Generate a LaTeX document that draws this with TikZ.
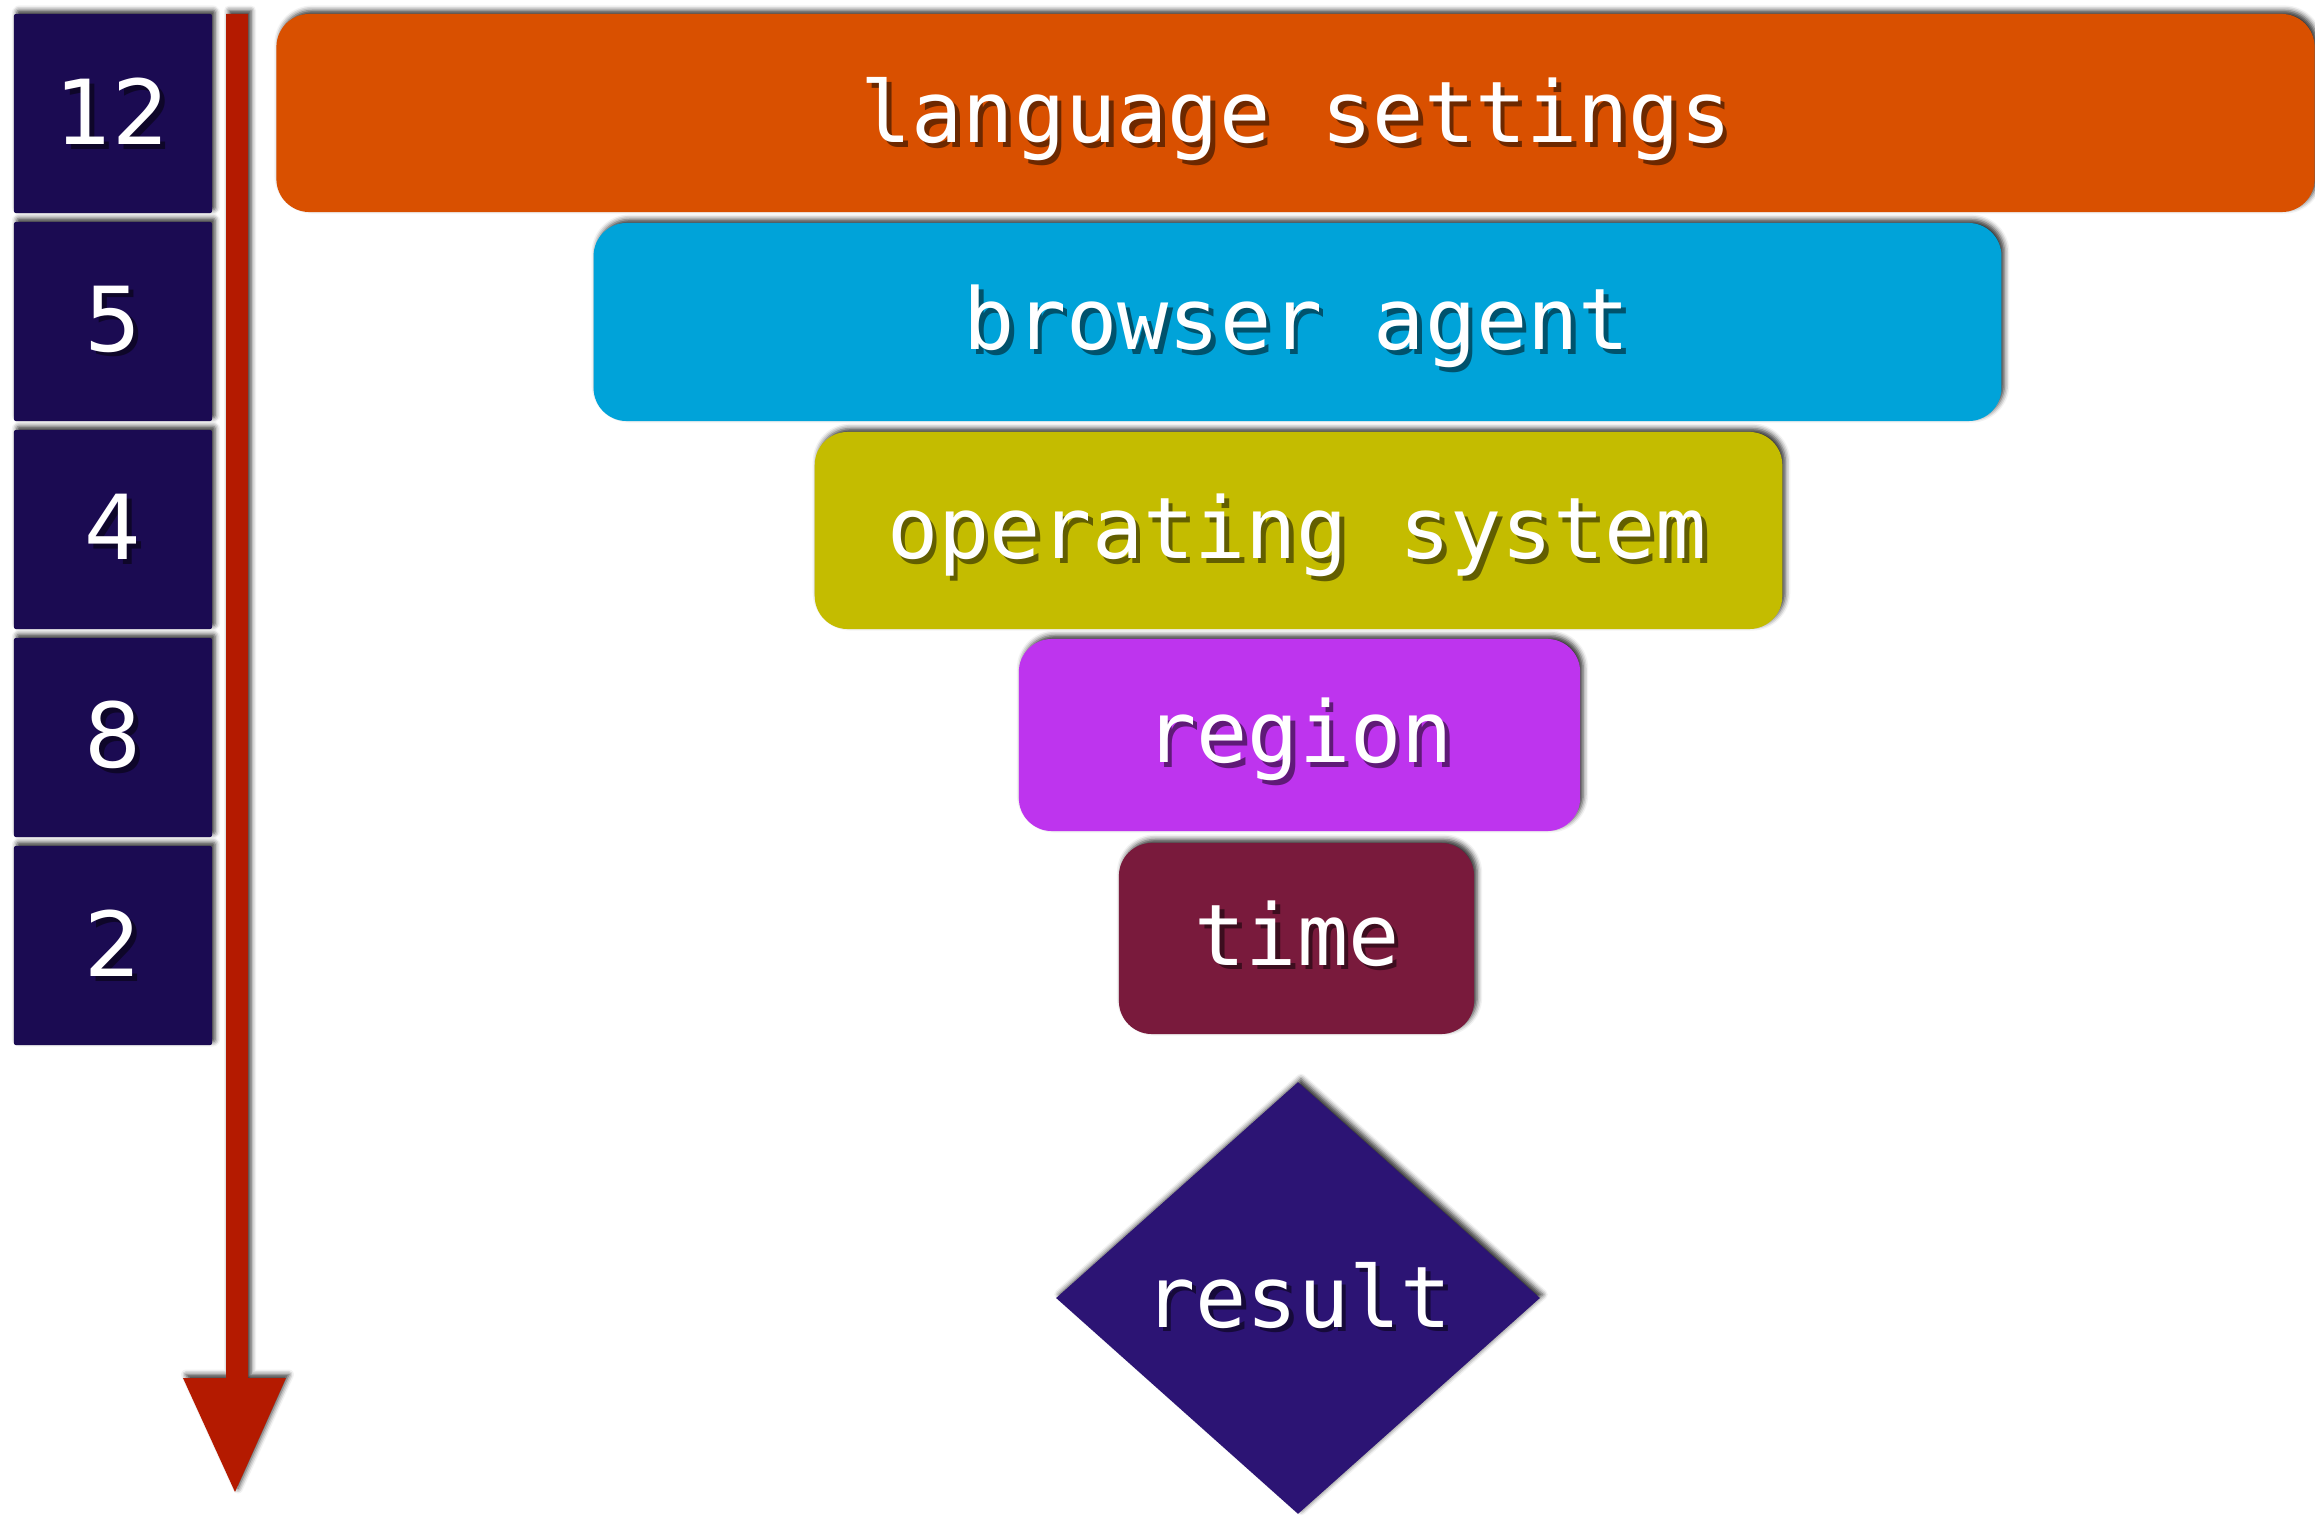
\documentclass[tikz,border=0pt]{standalone}
\usepackage{fontspec}
\setmainfont{DejaVu Sans}
\newfontfamily\codefont{DejaVu Sans Mono}
\usetikzlibrary{shapes.geometric,shadows.blur}

\definecolor{rankfill}{HTML}{1B0B52}
\definecolor{arrowred}{HTML}{B41A00}
\definecolor{langfill}{HTML}{D95000}
\definecolor{agentfill}{HTML}{00A3D9}
\definecolor{osfill}{HTML}{C4BC00}
\definecolor{regionfill}{HTML}{BE34EE}
\definecolor{timefill}{HTML}{791A3C}
\definecolor{resultfill}{HTML}{2C1474}

% white lettering with a dark copy cast down and to the right
\newcommand\castlabel[2]{%
  \rlap{\kern1.3pt\raisebox{-1.3pt}{\textcolor{#1!50!black}{#2}}}%
  \textcolor{white}{#2}}

\begin{document}
\begin{tikzpicture}[x=0.01cm, y=-0.01cm,
  boxshadow/.style={blur shadow={shadow xshift=0.03cm, shadow yshift=0.035cm,
      shadow blur radius=0.05cm, shadow opacity=80}},
  rankbox/.style={boxshadow, fill=rankfill, rounded corners=0.02cm,
      minimum width=1.98cm, minimum height=1.99cm, inner sep=0pt,
      font=\fontsize{25.5pt}{30pt}\selectfont},
  layer/.style={boxshadow, rounded corners=0.33cm, inner sep=0pt},
  layertext/.style={anchor=base, inner sep=0pt,
      font=\codefont\fontsize{24.2pt}{29pt}\selectfont}]

\useasboundingbox (0,0) rectangle (2315,1516);

% weight column
\node[rankbox] (r1) at (113,113.5) {\castlabel{rankfill}{12}};
\node[rankbox] (r2) at (113,321.5) {\castlabel{rankfill}{5}};
\node[rankbox] (r3) at (113,529.5) {\castlabel{rankfill}{4}};
\node[rankbox] (r4) at (113,737.5) {\castlabel{rankfill}{8}};
\node[rankbox] (r5) at (113,945.5) {\castlabel{rankfill}{2}};

% downward order arrow
\coordinate (arrowtop) at (237,14);
\coordinate (arrowtip) at (235,1492);
\fill[arrowred, boxshadow]
  (226,14) -- (248,14) -- (248,1378) -- (286,1378) -- (arrowtip)
  -- (183,1378) -- (226,1378) -- cycle;

% stacked criteria
\node[layer, fill=langfill, minimum width=20.37cm, minimum height=1.98cm]
  (lang) at (1295.5,113) {};
\node[layer, fill=agentfill, minimum width=14.07cm, minimum height=1.98cm]
  (agent) at (1297.5,322) {};
\node[layer, fill=osfill, minimum width=9.67cm, minimum height=1.97cm]
  (os) at (1298.5,530.5) {};
\node[layer, fill=regionfill, minimum width=5.61cm, minimum height=1.92cm]
  (region) at (1299.5,735) {};
\node[layer, fill=timefill, minimum width=3.55cm, minimum height=1.91cm]
  (time) at (1296.5,938.5) {};
\node[boxshadow, diamond, fill=resultfill, inner sep=0pt,
      minimum width=4.84cm, minimum height=4.32cm]
  (result) at (1298,1298) {};

\node[layertext] (langlabel)   at (1296,143)  {\castlabel{langfill}{language settings}};
\node[layertext] (agentlabel)  at (1297,350)  {\castlabel{agentfill}{browser agent}};
\node[layertext] (oslabel)     at (1297,559)  {\castlabel{osfill}{operating system}};
\node[layertext] (regionlabel) at (1299,763)  {\castlabel{regionfill}{region}};
\node[layertext] (timelabel)   at (1297,965)  {\castlabel{timefill}{time}};
\node[layertext] (resultlabel) at (1298,1327) {\castlabel{resultfill}{result}};

\end{tikzpicture}
\end{document}
